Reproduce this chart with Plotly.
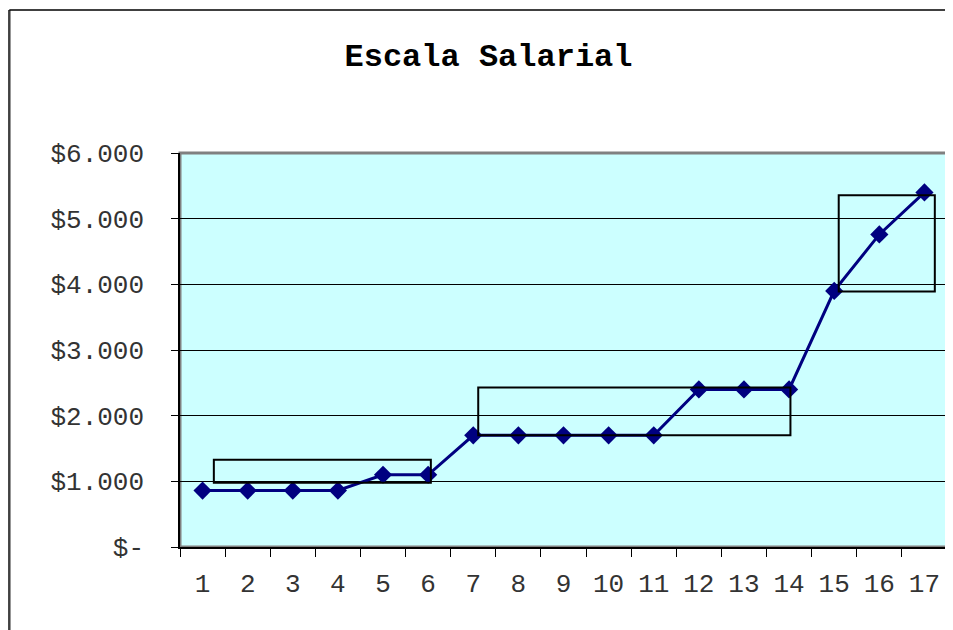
import plotly.graph_objects as go

# ---- data ----
categories = [str(i) for i in range(1, 18)]
salaries = [860, 860, 860, 860, 1100, 1100, 1700, 1700, 1700, 1700, 1700,
            2400, 2400, 2400, 3900, 4760, 5400]
y_tickvals = [0, 1000, 2000, 3000, 4000, 5000, 6000]
y_ticktext = ["$-", "$1.000", "$2.000", "$3.000", "$4.000", "$5.000", "$6.000"]
# band rectangles (x in category index units, 0-based; y in salary units)
band_x0 = [0.25, 6.11, 14.10]
band_x1 = [5.06, 13.03, 16.23]
band_y0 = [980, 1700, 3890]
band_y1 = [1330, 2430, 5355]

# page body has an 8px margin: figure sits at (8, 8)
W, H = 945, 622
ML, MR, MT, MB = 172, 6, 145, 83
pw, ph = W - ML - MR, H - MT - MB

fig = go.Figure()
fig.add_trace(go.Scatter(
    x=categories, y=salaries, mode="lines+markers",
    line=dict(color="#000080", width=3),
    marker=dict(symbol="diamond", size=14, color="#000080"),
    showlegend=False, cliponaxis=False,
))

shapes = []
for a, b, c, d in zip(band_x0, band_x1, band_y0, band_y1):
    shapes.append(dict(type="rect", xref="x", yref="y", x0=a, x1=b, y0=c, y1=d,
                       line=dict(color="black", width=2), fillcolor="rgba(0,0,0,0)",
                       layer="above"))
# plot area border (gray)
shapes.append(dict(type="rect", xref="paper", yref="paper", x0=0, x1=1, y0=0, y1=1,
                   line=dict(color="#808080", width=3), layer="between"))
# outer chart border (left and top)
lx = (1.3 - ML) / pw
ty = (H - MB - 2) / ph
by = (H - MB - H - 5) / ph
shapes.append(dict(type="line", xref="paper", yref="paper", x0=lx, x1=lx, y0=by, y1=ty,
                   line=dict(color="#404040", width=2.5)))
shapes.append(dict(type="line", xref="paper", yref="paper", x0=lx, x1=(W + 5 - ML) / pw, y0=ty, y1=ty,
                   line=dict(color="black", width=1.5)))

fig.update_layout(
    width=W, height=H,
    margin=dict(l=ML, r=MR, t=MT, b=MB),
    paper_bgcolor="white", plot_bgcolor="#CCFFFF",
    title=dict(text="<b>Escala Salarial</b>", x=480.5 / W, xanchor="center",
               y=1 - 47 / H, yanchor="middle",
               font=dict(family="Liberation Mono", size=32, color="black")),
    shapes=shapes,
    xaxis=dict(type="category", range=[-0.5, 16.5], showgrid=False,
               showline=True, linecolor="black", linewidth=1.5,
               ticks="outside", tickson="boundaries", ticklen=8, tickcolor="black",
               tickfont=dict(family="Liberation Mono", size=26, color="#333"),
               ticklabelstandoff=12, zeroline=False),
    yaxis=dict(range=[0, 6000], tickvals=y_tickvals, ticktext=y_ticktext,
               showgrid=True, gridcolor="black", gridwidth=1,
               showline=True, linecolor="black", linewidth=1.5,
               ticks="outside", ticklen=7, tickcolor="black",
               tickfont=dict(family="Liberation Mono", size=26, color="#333"),
               ticklabelstandoff=22, zeroline=False),
)

fig.write_html("out.html")
